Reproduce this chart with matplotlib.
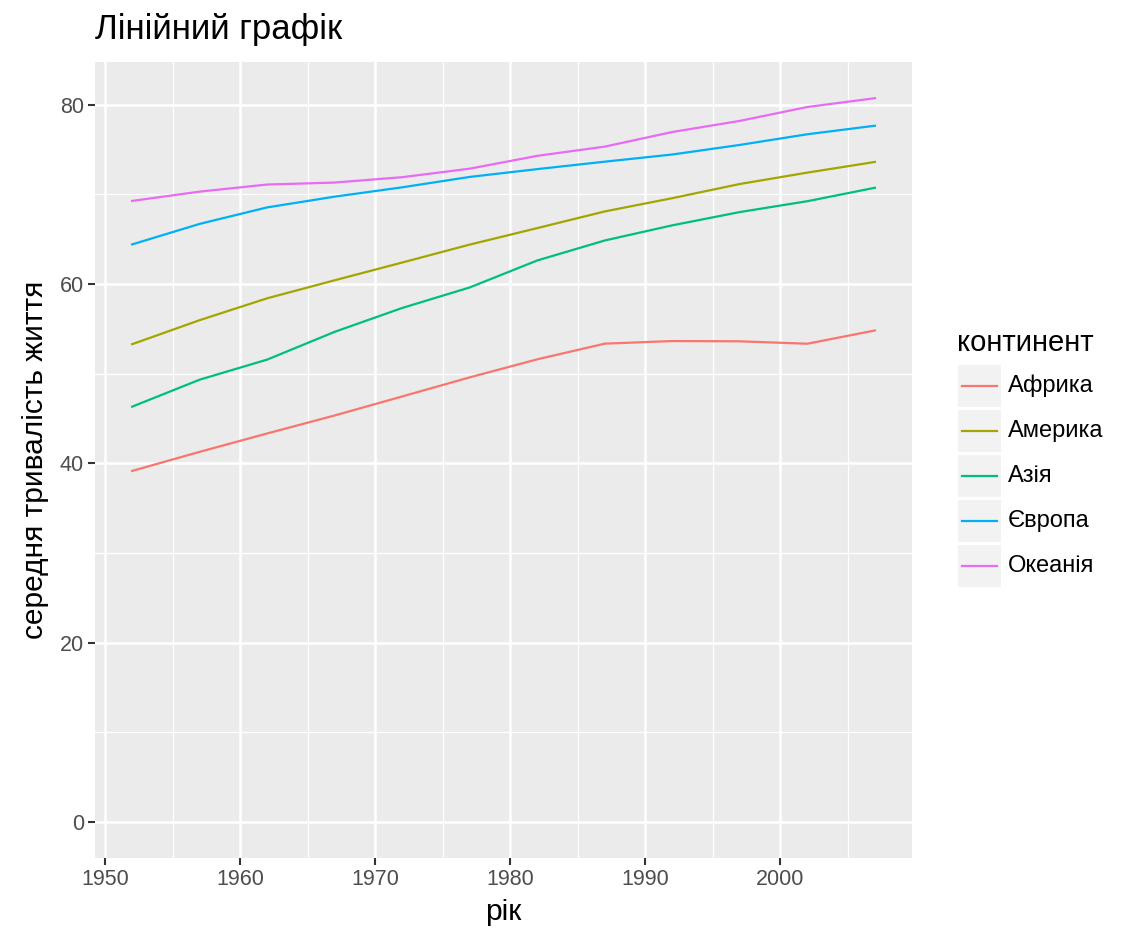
import numpy as np
from matplotlib import pyplot as plt
from matplotlib.patches import Rectangle

plt.rcParams['font.family'] = ['Liberation Sans', 'DejaVu Sans']

#mean life expectancy by continent
years = [1952, 1957, 1962, 1967, 1972, 1977, 1982, 1987, 1992, 1997, 2002, 2007]
africa = [39.14, 41.27, 43.32, 45.33, 47.45, 49.58, 51.59, 53.34, 53.63, 53.60, 53.33, 54.81]
america = [53.28, 55.96, 58.40, 60.41, 62.39, 64.39, 66.23, 68.09, 69.57, 71.15, 72.42, 73.61]
asia = [46.31, 49.32, 51.56, 54.66, 57.32, 59.61, 62.62, 64.85, 66.54, 68.02, 69.23, 70.73]
europe = [64.41, 66.70, 68.54, 69.74, 70.78, 71.94, 72.81, 73.64, 74.44, 75.51, 76.70, 77.65]
oceania = [69.26, 70.30, 71.09, 71.31, 71.91, 72.86, 74.29, 75.32, 76.95, 78.19, 79.74, 80.72]

names = ['Африка', 'Америка', 'Азія', 'Європа', 'Океанія']
series = [africa, america, asia, europe, oceania]
colors = ['#F8766D', '#A3A500', '#00BF7D', '#00B0F6', '#E76BF3']

W, H = 1133, 944
fig = plt.figure(figsize=(W/100, H/100), dpi=100)

#panel position in pixels
l, r, t, b = 95, 912, 62, 858
ax = fig.add_axes([l/W, 1-b/H, (r-l)/W, (b-t)/H])
ax.set_facecolor('#EBEBEB')

for vals, c in zip(series, colors):
    ax.plot(years, vals, color=c, lw=1.6, zorder=3)

#ggplot style expansion
ax.set_xlim(1952-2.75, 2007+2.75)
ax.set_ylim(0-4.04, 80.72+4.04)
ax.set_xticks([1950, 1960, 1970, 1980, 1990, 2000])
ax.set_yticks([0, 20, 40, 60, 80])
ax.set_xticks(np.arange(1955, 2010, 10), minor=True)
ax.set_yticks([10, 30, 50, 70], minor=True)
ax.grid(True, which='major', color='white', lw=1.8, zorder=1)
ax.grid(True, which='minor', color='white', lw=0.9, zorder=1)
ax.set_axisbelow(True)
for s in ax.spines.values():
    s.set_visible(False)
ax.tick_params(which='major', length=5, width=1.5, color='#333333',
               labelsize=15.5, labelcolor='#4D4D4D', pad=3)
ax.tick_params(which='minor', length=0)

ax.set_xlabel('рік', fontsize=21.5, labelpad=6)
ax.set_ylabel('середня тривалість життя', fontsize=21.5, labelpad=8)
fig.text(l/W, 1-30/H, 'Лінійний графік', fontsize=25, ha='left', va='center')

#legend drawn by hand to get the grey keys
lg = fig.add_axes([0, 0, 1, 1], facecolor='none')
lg.set_xlim(0, W)
lg.set_ylim(H, 0)
lg.axis('off')
lg.text(957, 343, 'континент', fontsize=21, ha='left', va='center')
for i, (n, c) in enumerate(zip(names, colors)):
    y0 = 365 + i*45
    lg.add_patch(Rectangle((958, y0), 43, 42, color='#F2F2F2', lw=0))
    lg.plot([962, 997], [y0+21, y0+21], color=c, lw=1.6)
    lg.text(1008, y0+21, n, fontsize=17, ha='left', va='center')

fig.savefig('out.png', dpi=100)
